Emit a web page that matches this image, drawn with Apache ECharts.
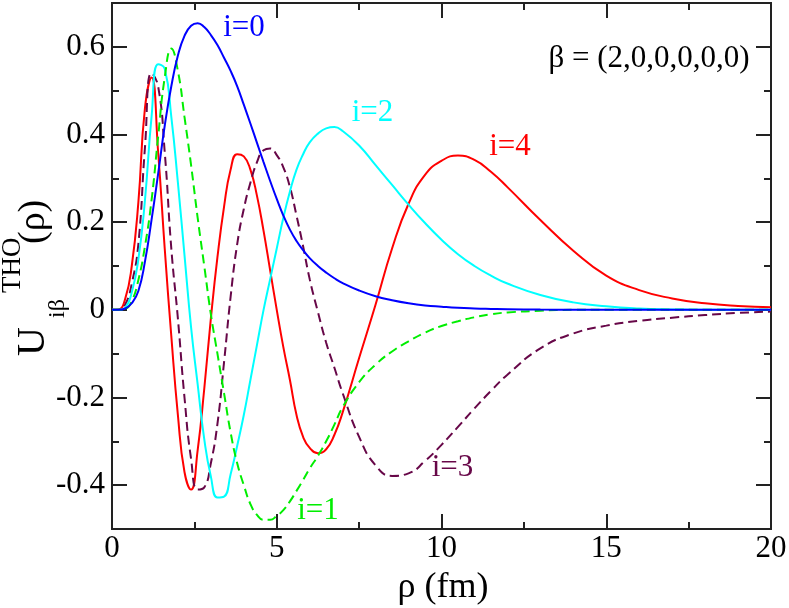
<!DOCTYPE html>
<html>
<head>
<meta charset="utf-8">
<script src="https://cdn.jsdelivr.net/npm/echarts@6/dist/echarts.min.js"></script>
<style>
html,body{margin:0;padding:0;background:#fff;}
#chart{width:789px;height:608px;}
</style>
</head>
<body>
<div id="chart"></div>
<script>
// ---- data (rho in fm, U values) ----
const rhoFine = [0, 0.2, 0.4, 0.6, 0.8, 1.0, 1.2, 1.4, 1.6, 1.8, 2.0, 2.2, 2.4, 2.6, 2.8, 3.0, 3.2, 3.4, 3.6, 3.8, 4.0, 4.2, 4.4, 4.6, 4.8, 5.0, 5.2, 5.4, 5.6, 5.8, 6.0,
                 6.25, 6.5, 6.75, 7.0, 7.5, 8.0, 8.5, 9.0, 9.5, 10.0, 10.5, 11.0, 11.5, 12.0, 13, 14, 15, 16, 17, 18, 19, 20];

const u0 = [0, 0, 0.003, 0.015, 0.043, 0.11, 0.205, 0.31, 0.42, 0.51, 0.58, 0.625, 0.648, 0.654, 0.645, 0.627, 0.604, 0.575, 0.545, 0.51, 0.468, 0.425, 0.381, 0.337, 0.294, 0.253, 0.215, 0.183, 0.157, 0.136, 0.118,
            0.1, 0.085, 0.072, 0.061, 0.044, 0.031, 0.022, 0.015, 0.01, 0.007, 0.0045, 0.003, 0.002, 0.0012, 0.0005, 0.0002, 0, 0, 0, 0, 0, 0];

const u1 = [0, 0, 0.002, 0.02, 0.068, 0.145, 0.25, 0.395, 0.53, 0.596, 0.545, 0.44, 0.33, 0.21, 0.1, -0.01, -0.1, -0.19, -0.28, -0.35, -0.4, -0.443, -0.468, -0.479, -0.479, -0.47, -0.457, -0.437, -0.413, -0.388, -0.362,
            -0.333, -0.3, -0.262, -0.222, -0.165, -0.125, -0.095, -0.072, -0.052, -0.037, -0.026, -0.017, -0.01, -0.006, -0.002, 0, 0, 0, 0, 0, 0, 0];

const u2 = [0, 0, 0.005, 0.04, 0.115, 0.25, 0.44, 0.56, 0.55, 0.44, 0.29, 0.125, -0.04, -0.17, -0.295, -0.38, -0.428, -0.426, -0.375, -0.31, -0.24, -0.16, -0.08, 0, 0.07, 0.14, 0.21, 0.27, 0.32, 0.355, 0.382,
            0.402, 0.414, 0.417, 0.408, 0.375, 0.33, 0.285, 0.24, 0.198, 0.16, 0.127, 0.1, 0.078, 0.06, 0.034, 0.017, 0.008, 0.003, 0.001, 0, 0, 0];

const u3 = [0, 0, 0.012, 0.06, 0.15, 0.37, 0.54, 0.51, 0.36, 0.14, -0.02, -0.2, -0.34, -0.41, -0.405, -0.35, -0.26, -0.12, 0.03, 0.15, 0.23, 0.29, 0.337, 0.364, 0.368, 0.353, 0.325, 0.28, 0.215, 0.145, 0.07,
            -0.005, -0.075, -0.132, -0.19, -0.29, -0.355, -0.379, -0.373, -0.345, -0.308, -0.267, -0.225, -0.185, -0.148, -0.088, -0.054, -0.036, -0.025, -0.018, -0.012, -0.007, -0.004];

const u4 = [0, 0.001, 0.025, 0.1, 0.245, 0.46, 0.53, 0.36, 0.14, -0.06, -0.24, -0.37, -0.41, -0.32, -0.18, -0.02, 0.12, 0.235, 0.32, 0.355, 0.35, 0.32, 0.26, 0.18, 0.09, 0.0, -0.085, -0.16, -0.24, -0.29, -0.315,
            -0.327, -0.318, -0.285, -0.234, -0.11, 0.012, 0.14, 0.242, 0.308, 0.34, 0.352, 0.342, 0.315, 0.28, 0.205, 0.135, 0.078, 0.045, 0.026, 0.015, 0.009, 0.006];

const xTicksMajor = [0, 5, 10, 15, 20];
const yTicksMajor = [-0.4, -0.2, 0, 0.2, 0.4, 0.6];
const yTicksMinor = [-0.5, -0.3, -0.1, 0.1, 0.3, 0.5, 0.7];
const curveLabels = ['i=0', 'i=1', 'i=2', 'i=3', 'i=4'];
const betaLabel = 'β = (2,0,0,0,0,0)';
const xTitle = 'ρ (fm)';

// ---- styling ----
const FONT = 'Liberation Serif';
const FS = 26;   // base drawing size; texts are scaled to their final size
const colors = ['#0000ff', '#00ee00', '#00ffff', '#670748', '#ff0000'];
const dashed = [false, true, false, true, false];
const AX = '#222';

function zip(xs, ys) { return xs.map((x, i) => [x, ys[i]]); }
const us = [u0, u1, u2, u3, u4];

const chart = echarts.init(document.getElementById('chart'), null, {renderer: 'canvas'});

function xAx(pos) {
  return {
    type: 'value', min: 0, max: 20, interval: 5, position: pos,
    axisLine: {show: true, onZero: false, lineStyle: {color: AX, width: 2}},
    axisTick: {show: true, inside: true, length: 15, lineStyle: {color: AX, width: 2}},
    minorTick: {show: true, splitNumber: 2, length: 7, lineStyle: {color: AX, width: 2}},
    axisLabel: {show: false},
    splitLine: {show: false}, minorSplitLine: {show: false}
  };
}
function yAx(pos, vals, len) {
  return {
    type: 'value', min: -0.5, max: 0.7, position: pos,
    axisLine: {show: true, onZero: false, lineStyle: {color: AX, width: 2}},
    axisTick: {show: true, inside: true, length: len, customValues: vals, lineStyle: {color: AX, width: 2}},
    axisLabel: {show: false},
    splitLine: {show: false}
  };
}

const series = us.map((u, i) => ({
  type: 'line', name: curveLabels[i], data: zip(rhoFine, u),
  xAxisIndex: 0, yAxisIndex: 0, smooth: 0.5, showSymbol: false, silent: true,
  lineStyle: {color: colors[i], width: 2, type: dashed[i] ? [9, 5] : 'solid'},
  z: 2 + (4 - i)
}));

chart.setOption({
  animation: false,
  backgroundColor: '#fff',
  grid: {left: 112, right: 18, top: 3, bottom: 79, containLabel: false},
  xAxis: [xAx('bottom'), xAx('top')],
  yAxis: [yAx('left', yTicksMajor, 15), yAx('left', yTicksMinor, 7),
          yAx('right', yTicksMajor, 15), yAx('right', yTicksMinor, 7)],
  series: series
});

function txt(text, x, y, size, color, align, valign, rot) {
  const s = size / FS;
  return {type: 'text', x: x, y: y, rotation: rot || 0, scaleX: s, scaleY: s, silent: true, z: 100,
    style: {text: text, fontSize: FS, fontFamily: FONT, fill: color,
            align: align || 'center', verticalAlign: valign || 'middle'}};
}
function fmtY(v) { const r = Math.round(v * 10) / 10; return r === 0 ? '0' : String(r); }

const g = [];
xTicksMajor.forEach(v => {
  g.push(txt(String(v), chart.convertToPixel({xAxisIndex: 0}, v), 533, 31, '#000', 'center', 'top'));
});
yTicksMajor.forEach(v => {
  g.push(txt(fmtY(v), 105, chart.convertToPixel({yAxisIndex: 0}, v), 31, '#000', 'right', 'middle'));
});
g.push(txt(curveLabels[0], 244, 28, 31, colors[0]));
g.push(txt(curveLabels[1], 318, 511, 31, colors[1]));
g.push(txt(curveLabels[2], 372.5, 113, 31, colors[2]));
g.push(txt(curveLabels[3], 452.5, 468, 31, colors[3]));
g.push(txt(curveLabels[4], 510, 147, 31, colors[4]));
g.push(txt(betaLabel, 649, 59, 31, '#000'));
g.push(txt(xTitle, 443, 588, 36, '#000'));
g.push(txt('U', 33.5, 356, 40, '#000', 'left', 'middle', Math.PI / 2));
g.push(txt('iβ', 58, 318, 24, '#000', 'left', 'middle', Math.PI / 2));
g.push(txt('THO', 12.5, 293, 27, '#000', 'left', 'middle', Math.PI / 2));
g.push(txt('(ρ)', 33.7, 244, 38, '#000', 'left', 'middle', Math.PI / 2));

chart.setOption({graphic: g});
</script>
</body>
</html>
